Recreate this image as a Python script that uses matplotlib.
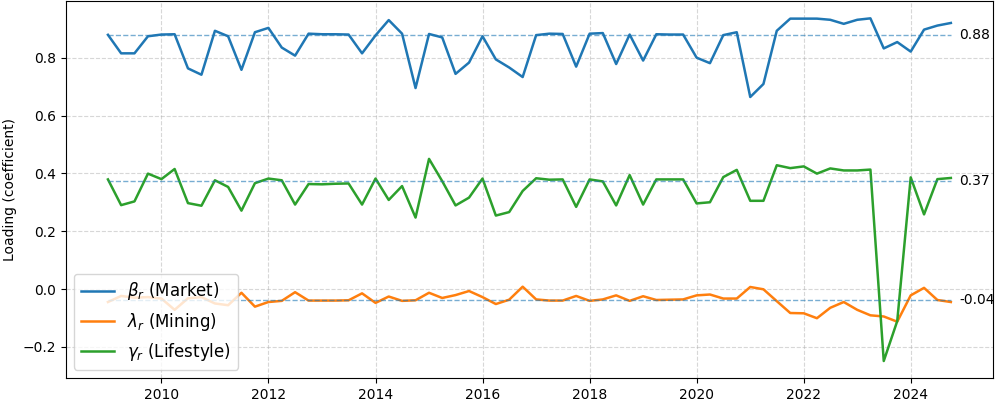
import numpy as np
import pandas as pd
import matplotlib
matplotlib.use("Agg")
import matplotlib.pyplot as plt

start_date = "2009-01-01"
n_quarters = 64

beta = [0.879, 0.815, 0.815, 0.874, 0.880, 0.881, 0.763, 0.741, 0.893, 0.874,
        0.758, 0.888, 0.903, 0.835, 0.807, 0.883, 0.881, 0.881, 0.880, 0.815,
        0.877, 0.930, 0.883, 0.695, 0.882, 0.870, 0.744, 0.783, 0.874, 0.794,
        0.766, 0.733, 0.878, 0.883, 0.882, 0.769, 0.883, 0.885, 0.778, 0.880,
        0.790, 0.881, 0.880, 0.880, 0.800, 0.781, 0.878, 0.888, 0.664, 0.709,
        0.893, 0.935, 0.935, 0.935, 0.931, 0.917, 0.931, 0.936, 0.832, 0.854,
        0.821, 0.897, 0.911, 0.920]

lam = [-0.045, -0.024, -0.030, -0.028, -0.033, -0.072, -0.032, -0.028, -0.050, -0.056,
       -0.013, -0.061, -0.045, -0.041, -0.011, -0.040, -0.040, -0.040, -0.039, -0.015,
       -0.048, -0.026, -0.041, -0.039, -0.013, -0.031, -0.021, -0.007, -0.028, -0.052,
       -0.037, 0.008, -0.036, -0.040, -0.040, -0.024, -0.041, -0.036, -0.022, -0.041,
       -0.025, -0.038, -0.037, -0.036, -0.022, -0.019, -0.033, -0.033, 0.007, -0.001,
       -0.042, -0.083, -0.084, -0.101, -0.065, -0.045, -0.072, -0.091, -0.095, -0.113,
       -0.022, 0.004, -0.038, -0.045]

gamma = [0.379, 0.290, 0.303, 0.399, 0.380, 0.415, 0.297, 0.288, 0.376, 0.353,
         0.271, 0.366, 0.382, 0.376, 0.292, 0.363, 0.362, 0.364, 0.365, 0.292,
         0.382, 0.308, 0.356, 0.247, 0.450, 0.373, 0.289, 0.316, 0.382, 0.254,
         0.266, 0.339, 0.383, 0.378, 0.379, 0.284, 0.379, 0.372, 0.289, 0.394,
         0.292, 0.379, 0.379, 0.379, 0.296, 0.300, 0.387, 0.412, 0.305, 0.305,
         0.428, 0.418, 0.424, 0.399, 0.417, 0.410, 0.410, 0.413, -0.249, -0.111,
         0.386, 0.258, 0.380, 0.384]

labels = [r"$\beta_r$ (Market)", r"$\lambda_r$ (Mining)", r"$\gamma_r$ (Lifestyle)"]
ylabel = "Loading (coefficient)"

dates = pd.date_range(start_date, periods=n_quarters, freq="QS")

fig, ax = plt.subplots(figsize=(9.97, 4.04), dpi=100)
fig.subplots_adjust(left=0.066, right=0.996, top=0.997, bottom=0.064)

for series, lab in zip([beta, lam, gamma], labels):
    ax.plot(dates, series, label=lab, linewidth=1.8)

for series in [beta, lam, gamma]:
    med = float(np.median(series))
    ax.hlines(med, dates[0], dates[-1], linestyles="--", linewidth=1, alpha=0.6)
    ax.text(dates[-1] + pd.Timedelta(days=55), med, f"{med:.2f}",
            va="center", ha="left", fontsize=10)

ax.set_ylabel(ylabel)
ax.grid(True, linestyle="--", alpha=0.5)
ax.legend(loc="lower left", fontsize=12)

fig.savefig("out.png", dpi=100)
